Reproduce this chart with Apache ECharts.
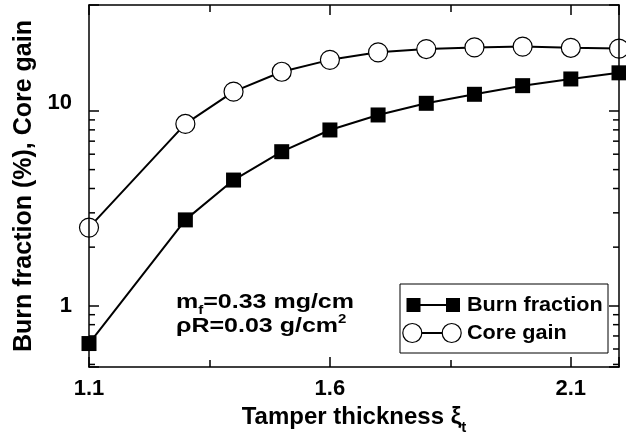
<!DOCTYPE html>
<html>
<head>
<meta charset="utf-8">
<script src="https://cdn.jsdelivr.net/npm/echarts@6/dist/echarts.min.js"></script>
<style>
html,body{margin:0;padding:0;background:#fff;}
#chart{width:626px;height:434px;}
</style>
</head>
<body>
<div id="chart"></div>
<script>
// ---- data ----
const xValues = [1.1, 1.3, 1.4, 1.5, 1.6, 1.7, 1.8, 1.9, 2.0, 2.1, 2.2];
const burnFraction = [0.64, 2.76, 4.42, 6.18, 7.99, 9.54, 10.95, 12.18, 13.49, 14.6, 15.7];
const coreGain = [2.52, 8.58, 12.57, 15.9, 18.3, 20.0, 20.8, 21.2, 21.4, 21.1, 20.9];
const xTickLabels = [1.1, 1.6, 2.1];
const yTickLabels = [1, 10];
const yMinorTicks = [0.5, 0.6, 0.7, 0.8, 0.9, 2, 3, 4, 5, 6, 7, 8, 9];
const xMin = 1.1, xMax = 2.2, yMin = 0.485, yMax = 35;

const FONT = "'Liberation Sans', Arial, Helvetica, sans-serif";
const chart = echarts.init(document.getElementById('chart'), null, {renderer: 'canvas'});

function near(a, b) { return Math.abs(a - b) < 1e-6 * Math.max(1, Math.abs(b)); }

const axisLine = {show: true, lineStyle: {color: '#000', width: 1.5}};
const xCommon = {
  type: 'value', min: xMin, max: xMax, interval: 0.5,
  axisLine: axisLine,
  axisTick: {show: true, inside: true, length: 10, lineStyle: {color: '#000', width: 1.5}},
  minorTick: {show: true, splitNumber: 2, length: 7, lineStyle: {color: '#000', width: 1.5}},
  splitLine: {show: false}, z: 10
};
const yCommon = {
  type: 'log', logBase: 10, min: yMin, max: yMax,
  axisLine: axisLine,
  axisTick: {show: true, inside: true, length: 10, lineStyle: {color: '#000', width: 1.5}},
  splitLine: {show: false}, z: 10
};

const option = {
  backgroundColor: '#fff',
  animation: false,
  grid: {left: 89, right: 7, top: 5, bottom: 67, containLabel: false, outerBoundsMode: 'none'},
  xAxis: [
    Object.assign({}, xCommon, {
      position: 'bottom',
      name: '{a|Tamper thickness ξ}{b|t}',
      nameLocation: 'middle', nameGap: 29,
      nameTextStyle: {
        color: '#000',
        rich: {
          a: {fontFamily: FONT, fontWeight: 'bold', fontSize: 24, color: '#000'},
          b: {fontFamily: FONT, fontWeight: 'bold', fontSize: 15, color: '#000', padding: [22, 0, 0, 0]}
        }
      },
      axisLabel: {
        show: true, margin: 11, color: '#000', fontFamily: FONT, fontWeight: 'bold', fontSize: 22,
        showMaxLabel: false,
        formatter: function (v) {
          for (const t of xTickLabels) if (near(v, t)) return t.toFixed(1);
          return '';
        }
      }
    }),
    Object.assign({}, xCommon, {position: 'top', axisLabel: {show: false}})
  ],
  yAxis: [
    Object.assign({}, yCommon, {
      position: 'left',
      name: 'Burn fraction (%), Core gain',
      nameLocation: 'middle', nameGap: 51,
      nameTextStyle: {fontFamily: FONT, fontWeight: 'bold', fontSize: 25, color: '#000'},
      axisLabel: {
        show: true, margin: 17, color: '#000', fontFamily: FONT, fontWeight: 'bold', fontSize: 22,
        formatter: function (v) {
          for (const t of yTickLabels) {
            if (near(v, t)) return t === 10 ? '{up|10}' : String(t);
          }
          return '';
        },
        rich: {up: {fontFamily: FONT, fontWeight: 'bold', fontSize: 22, color: '#000', padding: [0, 0, 17, 0]}}
      }
    }),
    Object.assign({}, yCommon, {position: 'right', axisLabel: {show: false}})
  ],
  series: [
    {
      name: 'Burn fraction', type: 'line', xAxisIndex: 0, yAxisIndex: 0,
      data: xValues.map((x, i) => [x, burnFraction[i]]),
      symbol: 'rect', symbolSize: 15, clip: false, z: 3,
      lineStyle: {color: '#000', width: 2},
      itemStyle: {color: '#000', borderColor: '#000', borderWidth: 0}
    },
    {
      name: 'Core gain', type: 'line', xAxisIndex: 0, yAxisIndex: 0,
      data: xValues.map((x, i) => [x, coreGain[i]]),
      symbol: 'circle', symbolSize: 19, clip: false, z: 3,
      lineStyle: {color: '#000', width: 2},
      itemStyle: {color: '#fff', borderColor: '#000', borderWidth: 1.2}
    },
    {
      name: 'minorY', type: 'custom', xAxisIndex: 0, yAxisIndex: 0, silent: true, clip: false, z: 11,
      data: yMinorTicks.map(v => [xMin, v]),
      renderItem: function (params, api) {
        const v = api.value(1);
        const l = api.coord([xMin, v]);
        const r = api.coord([xMax, v]);
        const st = {stroke: '#000', lineWidth: 1.5};
        return {
          type: 'group', children: [
            {type: 'line', shape: {x1: l[0], y1: l[1], x2: l[0] + 6, y2: l[1]}, style: st},
            {type: 'line', shape: {x1: r[0] - 6, y1: r[1], x2: r[0], y2: r[1]}, style: st}
          ]
        };
      }
    }
  ],
  graphic: [
    // annotation
    {
      type: 'text', x: 176, y: 287, scaleX: 1.25, z: 20,
      style: {
        x: 0, y: 0, verticalAlign: 'top', align: 'left',
        text: '{a|m}{s|f}{a|=0.33 mg/cm}',
        rich: {
          a: {fontFamily: FONT, fontWeight: 'bold', fontSize: 20, fill: '#000'},
          s: {fontFamily: FONT, fontWeight: 'bold', fontSize: 12, fill: '#000', padding: [18, 0, 0, 0]}
        }
      }
    },
    {
      type: 'text', x: 176, y: 314, scaleX: 1.25, z: 20,
      style: {
        x: 0, y: 0, verticalAlign: 'top', align: 'left',
        text: '{a|ρR=0.03 g/cm}{p|2}',
        rich: {
          a: {fontFamily: FONT, fontWeight: 'bold', fontSize: 20, fill: '#000'},
          p: {fontFamily: FONT, fontWeight: 'bold', fontSize: 12, fill: '#000', padding: [0, 0, 13, 0]}
        }
      }
    },
    // legend
    {
      type: 'group', z: 30,
      children: [
        {type: 'rect', shape: {x: 400, y: 284, width: 208, height: 69}, style: {fill: '#fff', stroke: '#000', lineWidth: 1}},
        {type: 'line', shape: {x1: 420, y1: 305, x2: 446, y2: 305}, style: {stroke: '#000', lineWidth: 2}},
        {type: 'rect', shape: {x: 406.5, y: 298, width: 14, height: 14}, style: {fill: '#000'}},
        {type: 'rect', shape: {x: 446, y: 298, width: 14, height: 14}, style: {fill: '#000'}},
        {type: 'text', x: 467, y: 305, scaleX: 1.03, style: {x: 0, y: 0, text: 'Burn fraction', font: "bold 21px " + FONT, fill: '#000', verticalAlign: 'middle'}},
        {type: 'line', shape: {x1: 421.5, y1: 333, x2: 442.5, y2: 333}, style: {stroke: '#000', lineWidth: 2}},
        {type: 'circle', shape: {cx: 412.3, cy: 333, r: 9.5}, style: {fill: '#fff', stroke: '#000', lineWidth: 1.2}},
        {type: 'circle', shape: {cx: 451.7, cy: 333, r: 9.5}, style: {fill: '#fff', stroke: '#000', lineWidth: 1.2}},
        {type: 'text', x: 467, y: 333, scaleX: 1.03, style: {x: 0, y: 0, text: 'Core gain', font: "bold 21px " + FONT, fill: '#000', verticalAlign: 'middle'}}
      ]
    }
  ]
};
chart.setOption(option);
</script>
</body>
</html>
